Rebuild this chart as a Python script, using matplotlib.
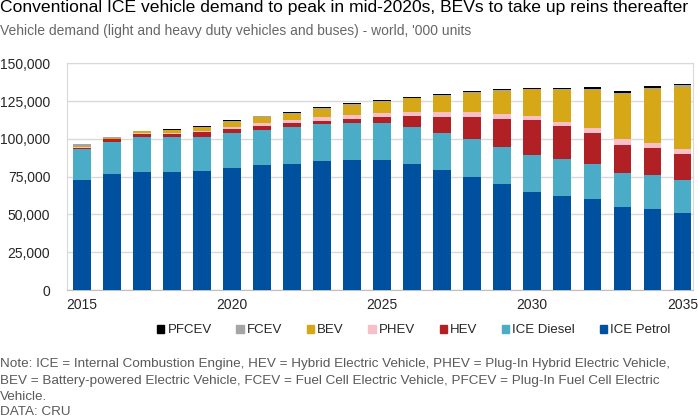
import matplotlib
matplotlib.use("Agg")
import matplotlib.pyplot as plt
from matplotlib.patches import Patch
from matplotlib.ticker import FuncFormatter, MultipleLocator
import numpy as np

plt.rcParams['font.family'] = ['Liberation Sans', 'DejaVu Sans']

years = list(range(2015, 2036))

# '000 units
ice_petrol = [72500, 76900, 78000, 78000, 78600, 80600, 82400, 83500, 85500, 86200, 86200,
              83100, 79300, 74900, 70000, 64900, 62500, 60100, 55200, 53900, 51200]
ice_diesel = [20700, 21000, 22950, 23000, 22800, 23400, 23400, 24300, 24100, 24500, 24500,
              24700, 24700, 24900, 24800, 24300, 24300, 23600, 22300, 22300, 21900]
hev = [1100, 1700, 2450, 2000, 2900, 2700, 2700, 2400, 2400, 2600, 3900,
       7500, 10600, 14800, 18500, 23500, 21700, 20300, 18600, 17500, 16800]
phev = [500, 600, 700, 800, 800, 1100, 1700, 2200, 2400, 2400, 2500,
        2700, 3100, 3100, 3100, 2600, 2600, 3100, 3500, 3500, 3500]
bev = [300, 500, 1000, 2000, 2500, 3500, 4400, 4200, 5300, 6700, 7500,
       8800, 10900, 12600, 15500, 17500, 21200, 25200, 30100, 35600, 41100]
fcev = [1200, 400, 300, 300, 300, 500, 300, 500, 500, 500, 300,
        300, 700, 600, 500, 500, 900, 800, 900, 800, 1000]
pfcev = [0, 100, 100, 400, 900, 400, 400, 600, 600, 600, 1000,
         600, 600, 500, 600, 600, 700, 1100, 1300, 1600, 900]

series = [
    ('ICE Petrol', ice_petrol, '#0050a0'),
    ('ICE Diesel', ice_diesel, '#4aacc6'),
    ('HEV', hev, '#b02025'),
    ('PHEV', phev, '#f7c0c8'),
    ('BEV', bev, '#d6a817'),
    ('FCEV', fcev, '#a5a5a5'),
    ('PFCEV', pfcev, '#000000'),
]

fig = plt.figure(figsize=(6.98, 4.18), dpi=100)
ax = fig.add_axes([0.096, 0.306, 0.8964, 0.5426])

bottom = np.zeros(len(years))
for name, vals, col in series:
    ax.bar(years, vals, bottom=bottom, width=0.59, color=col, label=name, zorder=3)
    bottom += np.array(vals)

ax.set_ylim(0, 150000)
ax.set_xlim(2015 - 0.49, 2035 + 0.34)
ax.yaxis.set_major_locator(MultipleLocator(25000))
ax.yaxis.set_major_formatter(FuncFormatter(lambda v, p: f'{int(v):,}'))
ax.set_xticks([2015, 2020, 2025, 2030, 2035])
ax.grid(axis='y', color='#d9d9d9', linewidth=1, zorder=0)
for s in ['left', 'top', 'right']:
    ax.spines[s].set_color('#d9d9d9')
ax.spines['bottom'].set_color('#bfbfbf')
ax.tick_params(axis='both', length=0, labelsize=10, labelcolor='#262626')
ax.tick_params(axis='y', pad=12)
ax.tick_params(axis='x', pad=6)

handles = [Patch(color=col, label=name) for name, vals, col in series[::-1]]
fig.legend(handles=handles, loc='center', bbox_to_anchor=(0.593, 0.21), ncol=7,
           frameon=False, fontsize=9.5, handlelength=0.55, handleheight=0.55,
           handletextpad=0.25, columnspacing=1.85, labelcolor='#262626')

fig.text(0.0, 0.981, "Conventional ICE vehicle demand to peak in mid-2020s, BEVs to take up reins thereafter",
         fontsize=12.6, color='#000000', va='center', ha='left')
fig.text(0.0, 0.926, "Vehicle demand (light and heavy duty vehicles and buses) - world, '000 units",
         fontsize=10, color='#666666', va='center', ha='left')

notes = [
    "Note: ICE = Internal Combustion Engine, HEV = Hybrid Electric Vehicle, PHEV = Plug-In Hybrid Electric Vehicle,",
    "BEV = Battery-powered Electric Vehicle, FCEV = Fuel Cell Electric Vehicle, PFCEV = Plug-In Fuel Cell Electric",
    "Vehicle.",
    "DATA: CRU",
]
note_y = [364, 381, 397, 412]
for txt, y in zip(notes, note_y):
    fig.text(0.0, 1 - y / 418, txt, fontsize=9.7, color='#595959', va='center', ha='left')

fig.savefig('out.png', dpi=100)
